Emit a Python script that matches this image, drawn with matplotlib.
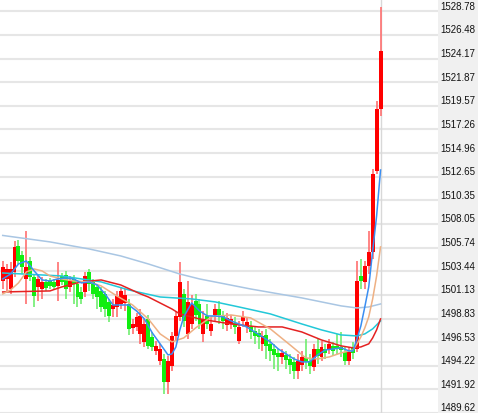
import numpy as np
import matplotlib
matplotlib.use("Agg")
import matplotlib.pyplot as plt
from matplotlib.transforms import ScaledTranslation

# Candles (abertura, máxima, mínima, fechamento)
abertura = [1502.49, 1502.69, 1501.71, 1503.37, 1505.90, 1505.03, 1502.69, 1504.44, 1502.88, 1501.91,
            1501.71, 1502.40, 1502.49, 1502.40, 1502.01, 1502.98, 1503.08, 1501.91, 1502.69, 1502.20,
            1501.42, 1501.42, 1503.37, 1502.40, 1501.91, 1501.52, 1501.23, 1500.45, 1499.76, 1499.96,
            1500.25, 1500.35, 1500.25, 1497.91, 1498.01, 1497.33, 1496.55, 1498.79, 1497.04, 1495.67,
            1494.70, 1494.89, 1492.65, 1494.21, 1497.13, 1498.99, 1501.23, 1497.33, 1498.30, 1500.54,
            1500.25, 1497.33, 1499.08, 1497.62, 1499.18, 1499.76, 1499.08, 1498.21, 1498.30, 1498.40,
            1496.65, 1498.60, 1498.01, 1498.01, 1497.62, 1497.43, 1496.36, 1497.23, 1496.36, 1495.87,
            1495.48, 1495.09, 1495.28, 1494.89, 1494.60, 1493.72, 1494.31, 1494.99, 1494.70, 1494.11,
            1495.87, 1495.09, 1495.87, 1495.77, 1496.16, 1496.16, 1496.06, 1495.57, 1494.70, 1495.97,
            1495.87, 1502.98, 1502.40, 1503.96, 1505.32, 1513.22, 1519.26]
maxima = [1504.44, 1504.15, 1504.35, 1506.39, 1506.49, 1505.42, 1507.37, 1504.83, 1503.17, 1503.08,
          1502.88, 1502.69, 1502.79, 1502.69, 1504.35, 1503.27, 1503.47, 1502.98, 1503.08, 1502.59,
          1501.91, 1503.37, 1503.66, 1502.69, 1502.20, 1501.91, 1501.52, 1500.74, 1500.74, 1501.52,
          1501.91, 1501.71, 1500.74, 1498.79, 1499.38, 1499.76, 1498.79, 1499.18, 1497.52, 1496.65,
          1496.36, 1495.38, 1495.18, 1497.52, 1499.57, 1504.35, 1501.71, 1502.49, 1501.13, 1501.23,
          1500.74, 1499.57, 1500.25, 1498.99, 1500.25, 1500.54, 1499.57, 1499.38, 1499.18, 1498.99,
          1498.60, 1499.57, 1498.99, 1498.60, 1498.01, 1497.82, 1497.62, 1497.82, 1496.84, 1496.36,
          1495.87, 1495.87, 1495.67, 1495.38, 1495.09, 1495.38, 1495.67, 1496.84, 1495.38, 1496.36,
          1496.84, 1496.65, 1496.36, 1496.84, 1496.55, 1497.33, 1497.52, 1496.06, 1496.06, 1496.55,
          1504.44, 1504.64, 1504.44, 1507.37, 1513.41, 1520.04, 1529.20]
minima = [1501.71, 1501.52, 1501.23, 1502.88, 1504.15, 1503.17, 1500.25, 1502.49, 1499.96, 1500.54,
          1500.74, 1501.52, 1501.71, 1501.62, 1500.54, 1502.10, 1500.74, 1501.42, 1500.25, 1499.96,
          1500.25, 1500.93, 1501.52, 1500.74, 1499.76, 1499.47, 1498.99, 1498.50, 1498.99, 1498.99,
          1499.76, 1499.57, 1497.23, 1497.33, 1497.62, 1496.36, 1496.06, 1495.87, 1495.67, 1495.28,
          1494.31, 1491.48, 1491.48, 1493.72, 1496.65, 1498.60, 1498.01, 1496.84, 1497.82, 1498.60,
          1497.82, 1496.55, 1497.82, 1497.13, 1498.60, 1498.30, 1497.82, 1497.62, 1497.82, 1497.33,
          1496.36, 1498.01, 1497.43, 1496.84, 1496.36, 1495.87, 1495.67, 1494.89, 1494.70, 1493.92,
          1493.72, 1494.40, 1493.92, 1493.43, 1492.94, 1492.94, 1493.72, 1493.92, 1493.43, 1493.72,
          1494.40, 1494.70, 1494.89, 1495.38, 1495.18, 1495.38, 1495.09, 1494.31, 1494.31, 1494.89,
          1495.57, 1501.71, 1501.71, 1503.17, 1504.64, 1512.92, 1518.58]
fechamento = [1503.86, 1503.66, 1503.66, 1505.81, 1504.44, 1503.86, 1503.86, 1502.88, 1501.03, 1502.69,
              1502.40, 1501.81, 1502.01, 1501.91, 1502.59, 1502.40, 1501.71, 1502.49, 1502.20, 1500.93,
              1500.74, 1502.98, 1502.20, 1501.23, 1500.93, 1499.96, 1499.76, 1499.08, 1500.15, 1501.03,
              1501.52, 1501.13, 1497.82, 1498.30, 1498.99, 1499.08, 1498.30, 1496.16, 1496.06, 1496.16,
              1495.87, 1492.65, 1494.70, 1497.13, 1499.08, 1502.40, 1498.60, 1500.45, 1500.25, 1499.18,
              1498.30, 1498.79, 1498.30, 1498.30, 1499.76, 1499.18, 1498.60, 1498.89, 1498.79, 1498.01,
              1498.01, 1498.99, 1498.50, 1497.52, 1497.13, 1497.04, 1497.13, 1496.16, 1495.67, 1495.28,
              1495.09, 1495.48, 1494.79, 1494.31, 1493.72, 1494.70, 1495.09, 1494.60, 1494.21, 1495.87,
              1495.18, 1496.06, 1495.48, 1496.36, 1495.67, 1495.87, 1495.77, 1494.70, 1495.57, 1495.48,
              1502.49, 1502.49, 1503.96, 1505.32, 1512.92, 1519.26, 1524.91]

# Médias móveis (índice do candle -> valor)
ma5_idx = [0, 2, 4, 6, 8, 10, 12, 14, 16, 18, 20, 22, 24, 26, 28, 30, 32, 34, 36, 38, 40, 42, 43, 44,
           45, 46, 48, 50, 52, 54, 56, 58, 60, 62, 64, 66, 68, 70, 72, 74, 76, 78, 80, 82, 84, 86, 88,
           89, 90, 91, 92, 93, 94, 95, 96]
ma5 = [1502.69, 1503.17, 1504.15, 1504.44, 1503.47, 1502.59, 1502.49, 1502.69, 1502.79, 1502.69,
       1502.30, 1502.40, 1502.10, 1501.23, 1500.15, 1500.15, 1500.15, 1499.57, 1498.79, 1497.43,
       1496.36, 1495.28, 1495.38, 1496.06, 1497.72, 1498.99, 1500.35, 1499.57, 1499.08, 1499.08,
       1498.99, 1498.60, 1498.30, 1498.01, 1497.52, 1497.04, 1496.55, 1495.87, 1495.38, 1494.89,
       1494.60, 1494.60, 1495.28, 1495.77, 1495.87, 1495.97, 1495.67, 1495.67, 1496.84, 1498.11,
       1499.96, 1501.91, 1505.42, 1508.83, 1513.31]
ma10_idx = [0, 2, 4, 6, 8, 10, 12, 15, 18, 22, 25, 29, 33, 37, 40, 43, 46, 49, 53, 58, 63, 68, 73,
            77, 80, 83, 86, 89, 90, 91, 92, 93, 94, 95, 96]
ma10 = [1501.23, 1501.62, 1502.30, 1503.37, 1503.66, 1503.47, 1502.98, 1502.69, 1502.49, 1502.40,
        1502.01, 1501.03, 1500.15, 1498.79, 1497.33, 1496.55, 1496.94, 1497.91, 1498.99, 1499.18,
        1498.89, 1497.82, 1496.26, 1494.99, 1494.89, 1495.09, 1495.48, 1495.77, 1496.36, 1497.04,
        1497.91, 1498.99, 1500.74, 1502.98, 1505.81]
ma30_idx = [0, 12, 15, 20, 25, 30, 35, 37, 43, 45, 50, 58, 65, 71, 76, 81, 86, 89, 91, 93, 94, 95, 96]
ma30 = [1501.42, 1501.52, 1501.91, 1502.40, 1502.59, 1502.10, 1501.23, 1500.93, 1499.76, 1499.28,
        1498.79, 1498.30, 1498.01, 1498.01, 1497.52, 1496.74, 1496.16, 1495.97, 1496.06, 1496.36,
        1496.94, 1497.72, 1498.79]
ma60_idx = [0, 15, 25, 32, 40, 48, 54, 60, 68, 76, 81, 86, 90, 92, 94, 96]
ma60 = [1503.27, 1502.98, 1502.40, 1501.62, 1500.93, 1500.74, 1500.45, 1499.96, 1499.28, 1498.30,
        1497.72, 1497.23, 1497.13, 1497.33, 1497.82, 1498.60]
ma120_idx = [0, 12, 22, 30, 37, 45, 50, 63, 76, 86, 90, 93, 96]
ma120 = [1506.93, 1506.30, 1505.61, 1504.93, 1504.15, 1503.17, 1502.69, 1501.71, 1500.84, 1500.06,
         1499.86, 1499.96, 1500.25]

# Rótulos do eixo de preços (lado direito)
rotulos_y = ['1489.62', '1491.92', '1494.22', '1496.53', '1498.83', '1501.13', '1503.44', '1505.74',
             '1508.05', '1510.35', '1512.65', '1514.96', '1517.26', '1519.57', '1521.87', '1524.17',
             '1526.48', '1528.78']

fig = plt.figure(figsize=(4.78, 4.14), dpi=100, facecolor='#f0f0f0')
ax = fig.add_axes([0, 0, 438 / 478, 1])
ax.set_facecolor('white')

x = np.arange(len(fechamento))
ab = np.array(abertura)
fe = np.array(fechamento)
sobe = fe >= ab
cores = np.where(sobe, '#ff0000', '#11ee11')
cores_pavio = np.where(sobe, '#ff7070', '#70ee70')

# Pavios e corpos
ax.vlines(x, minima, maxima, colors=cores_pavio, linewidth=1.2, zorder=3)
base = np.minimum(ab, fe)
altura = np.maximum(np.abs(fe - ab), 0.06)
ax.bar(x, altura, bottom=base, width=1.0, color=cores, linewidth=0, zorder=4)

# Médias móveis
ax.plot(ma120_idx, ma120, color='#a9c6e3', lw=1.1, zorder=5)
ax.plot(ma60_idx, ma60, color='#22c8d8', lw=1.1, zorder=5)
ax.plot(ma30_idx, ma30, color='#e42222', lw=1.1, zorder=5)
ax.plot(ma10_idx, ma10, color='#eeb083', lw=1.1, zorder=5)
ax.plot(ma5_idx, ma5, color='#3a8ef2', lw=1.1, zorder=6)

# Linha vertical do último candle
ax.axvline(x[-1], color='#d8d8d8', lw=1, zorder=1)

ax.set_xlim(-0.69, 110.6)
ax.set_ylim(1489.63, 1529.98)
ax.set_yticks([float(r) for r in rotulos_y])
ax.set_yticklabels(rotulos_y, family='Liberation Sans', color='#111111')
ax.yaxis.tick_right()
ax.tick_params(axis='y', length=0, pad=2, labelsize=7)
ax.set_xticks([])
ax.grid(axis='y', color='#e6e6e6', lw=1.5)
ax.set_axisbelow(True)
for s in ax.spines.values():
    s.set_visible(False)

# Rótulos ficam um pouco acima da linha de grade
desloca = ScaledTranslation(0, 6.5 / 100, fig.dpi_scale_trans)
for rot in ax.get_yticklabels():
    rot.set_transform(rot.get_transform() + desloca)

fig.savefig('out.png', dpi=100, facecolor=fig.get_facecolor())
